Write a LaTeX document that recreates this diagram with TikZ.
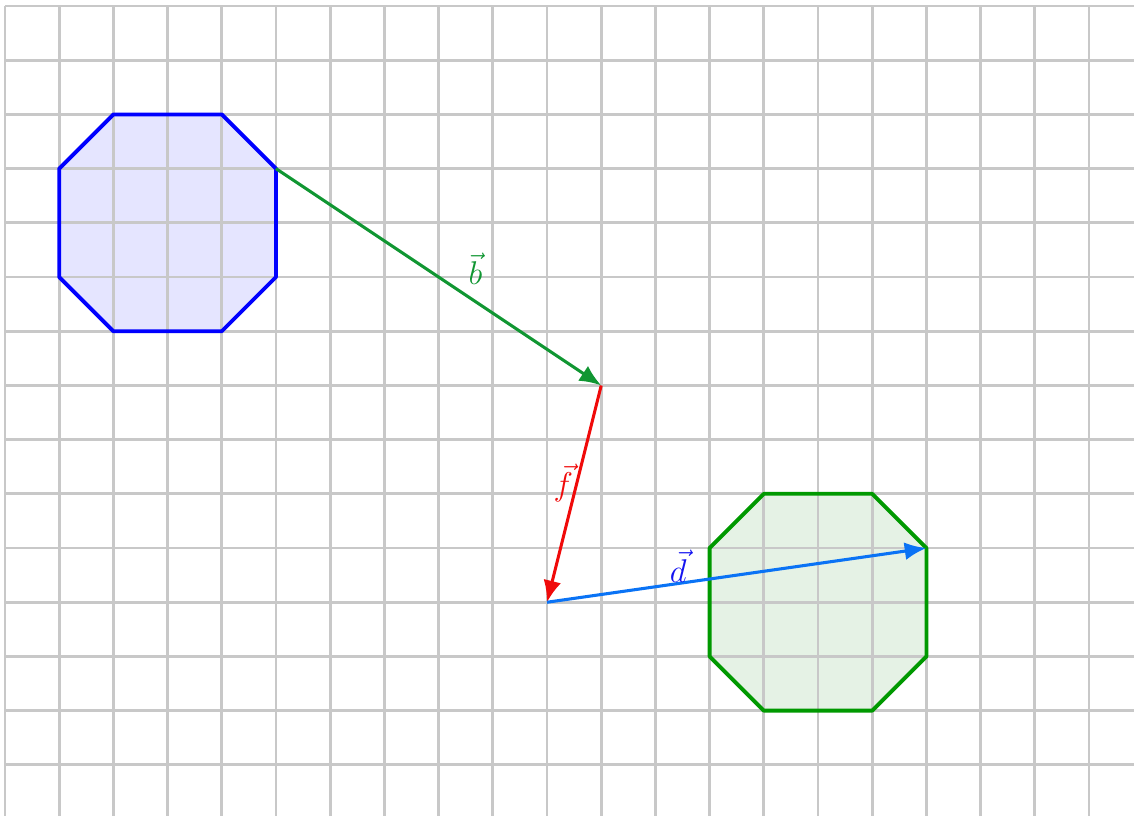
\documentclass[tikz,border=0pt]{standalone}
\usetikzlibrary{arrows.meta}
\definecolor{gridgray}{RGB}{200,200,200}
\definecolor{octblue}{RGB}{0,0,255}
\definecolor{octbluefill}{RGB}{229,229,255}
\definecolor{octgreen}{RGB}{0,153,0}
\definecolor{octgreenfill}{RGB}{229,242,229}
\definecolor{vecgreen}{RGB}{16,150,50}
\definecolor{vecred}{RGB}{240,10,10}
\definecolor{vecblue}{RGB}{10,115,245}
\definecolor{lblblue}{RGB}{20,20,240}
\begin{document}
\begin{tikzpicture}[y=-1cm,
  gridline/.style={gridgray, line width=1.5pt},
  octline/.style={line width=2pt, line join=round},
  vecline/.style={line width=1.6pt, -{Latex[length=4mm,width=3.3mm]}},
  lbl/.style={font=\fontsize{18}{21}\selectfont, inner sep=1pt}]
\useasboundingbox (-0.092,-0.111) rectangle (20.83,14.93);
% octagon fills (under the grid)
\fill[octbluefill]
  (2,2) -- (4,2) -- (5,3) -- (5,5) -- (4,6) -- (2,6) -- (1,5) -- (1,3) -- cycle;
\fill[octgreenfill]
  (14,9) -- (16,9) -- (17,10) -- (17,12) -- (16,13) -- (14,13) -- (13,12) -- (13,10) -- cycle;
\begin{scope}
\clip (-0.092,-0.111) rectangle (20.83,14.93);
\foreach \i in {0,...,20} \draw[gridline] (\i,0) -- (\i,15);
\foreach \j in {0,...,14} \draw[gridline] (0,\j) -- (21,\j);
\end{scope}
% octagon outlines
\draw[octline, octblue]
  (2,2) -- (4,2) -- (5,3) -- (5,5) -- (4,6) -- (2,6) -- (1,5) -- (1,3) -- cycle;
\draw[octline, octgreen]
  (14,9) -- (16,9) -- (17,10) -- (17,12) -- (16,13) -- (14,13) -- (13,12) -- (13,10) -- cycle;
\coordinate (A) at (5,3);
\coordinate (B) at (11,7);
\coordinate (C) at (10,11);
\coordinate (D) at (17,10);
\draw[vecline, vecgreen] (A) -- (B);
\draw[vecline, vecred] (B) -- (C);
\draw[vecline, vecblue] (C) -- (D);
\node[lbl, text=vecgreen] (lb) at (8.68,4.85) {$\vec{b}$};
\node[lbl, text=vecred] (lf) at (10.3,8.8) {$\vec{f}$};
\node[lbl, text=lblblue] (ld) at (12.42,10.33) {$\vec{d}$};
\end{tikzpicture}
\end{document}
